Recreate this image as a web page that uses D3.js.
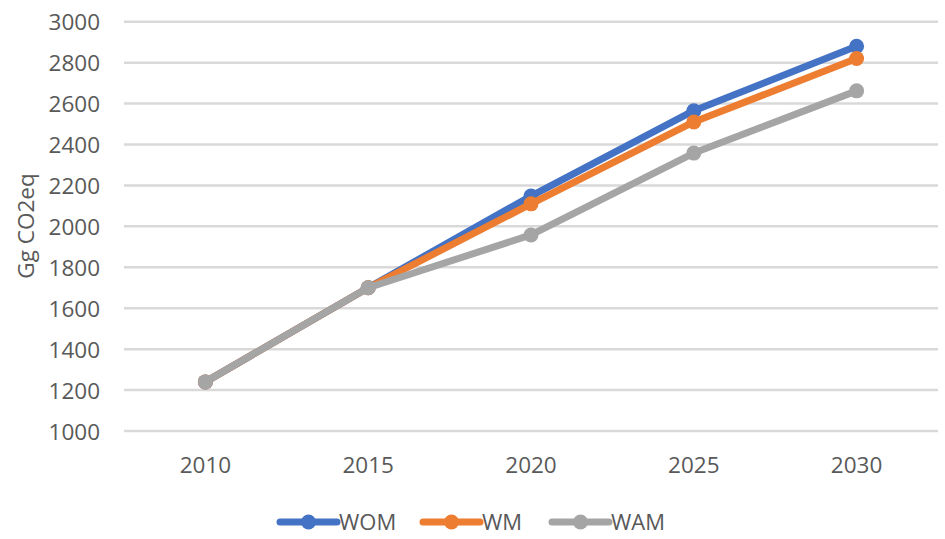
<!DOCTYPE html>
<html>
<head>
<meta charset="utf-8">
<script src="https://cdn.jsdelivr.net/npm/d3@7/dist/d3.min.js"></script>
<style>
  html, body { margin: 0; padding: 0; background: #ffffff; }
  svg { display: block; }
  text { font-family: "Open Sans", "Liberation Sans", sans-serif; fill: #595959; }
</style>
</head>
<body>
<div id="chart"></div>
<script>
// Emission scenarios, Gg CO2eq
const years = ["2010", "2015", "2020", "2025", "2030"];
const seriesNames = ["WOM", "WM", "WAM"];
const wom = [1240, 1700, 2148, 2565, 2880];
const wm  = [1240, 1700, 2110, 2510, 2820];
const wam = [1240, 1700, 1958, 2358, 2662];
const yTicks = [1000, 1200, 1400, 1600, 1800, 2000, 2200, 2400, 2600, 2800, 3000];
const colors = ["#4472C4", "#ED7D31", "#A5A5A5"];

const series = [wom, wm, wam].map((values, i) => ({
  name: seriesNames[i],
  color: colors[i],
  points: values.map((v, j) => ({ year: years[j], value: v }))
}));

const W = 945, H = 539;
const plot = { left: 124, right: 938, top: 21.7, bottom: 431 };

const svg = d3.select("#chart").append("svg")
  .attr("width", W).attr("height", H);

const x = d3.scaleBand().domain(years).range([plot.left, plot.right]);
const y = d3.scaleLinear().domain([1000, 3000]).range([plot.bottom, plot.top]);

// horizontal gridlines
svg.append("g")
  .selectAll("line")
  .data(yTicks)
  .join("line")
  .attr("x1", plot.left).attr("x2", plot.right)
  .attr("y1", d => y(d)).attr("y2", d => y(d))
  .attr("stroke", "#d9d9d9").attr("stroke-width", 2.5);

// y axis labels
const yAxis = svg.append("g")
  .attr("transform", `translate(${plot.left - 24},0)`)
  .call(d3.axisLeft(y).tickValues(yTicks).tickSize(0).tickPadding(0).tickFormat(d3.format("d")));
yAxis.select(".domain").remove();
yAxis.selectAll("text")
  .style("font-size", "22.5px").attr("fill", "#595959")
  .attr("dy", "0.36em");

// x axis labels
const xAxis = svg.append("g")
  .attr("transform", `translate(0,${plot.bottom})`)
  .call(d3.axisBottom(x).tickSize(0).tickPadding(26));
xAxis.select(".domain").remove();
xAxis.selectAll("text")
  .style("font-size", "22.5px").attr("fill", "#595959");

// y axis title
svg.append("text")
  .attr("transform", `translate(34,226) rotate(-90)`)
  .attr("text-anchor", "middle")
  .style("font-size", "22.5px")
  .text("Gg CO2eq");

const cx = d => x(d.year) + x.bandwidth() / 2;
const line = d3.line().x(cx).y(d => y(d.value));

const g = svg.append("g");
series.forEach(s => {
  g.append("path")
    .datum(s.points)
    .attr("d", line)
    .attr("fill", "none")
    .attr("stroke", s.color)
    .attr("stroke-width", 7)
    .attr("stroke-linejoin", "round")
    .attr("stroke-linecap", "round");
  g.selectAll(null)
    .data(s.points)
    .join("circle")
    .attr("cx", cx)
    .attr("cy", d => y(d.value))
    .attr("r", 7.5)
    .attr("fill", s.color);
});

// legend
const legendX = [280, 423, 552];
const legendY = 522;
const legend = svg.append("g");
series.forEach((s, i) => {
  const lg = legend.append("g").attr("transform", `translate(${legendX[i]},${legendY})`);
  lg.append("line")
    .attr("x1", 0).attr("x2", 57).attr("y1", 0).attr("y2", 0)
    .attr("stroke", s.color).attr("stroke-width", 7).attr("stroke-linecap", "round");
  lg.append("circle").attr("cx", 28.5).attr("cy", 0).attr("r", 7.5).attr("fill", s.color);
  lg.append("text")
    .attr("x", 59).attr("y", 0).attr("dy", "0.36em")
    .style("font-size", "22px")
    .text(s.name);
});
</script>
</body>
</html>
